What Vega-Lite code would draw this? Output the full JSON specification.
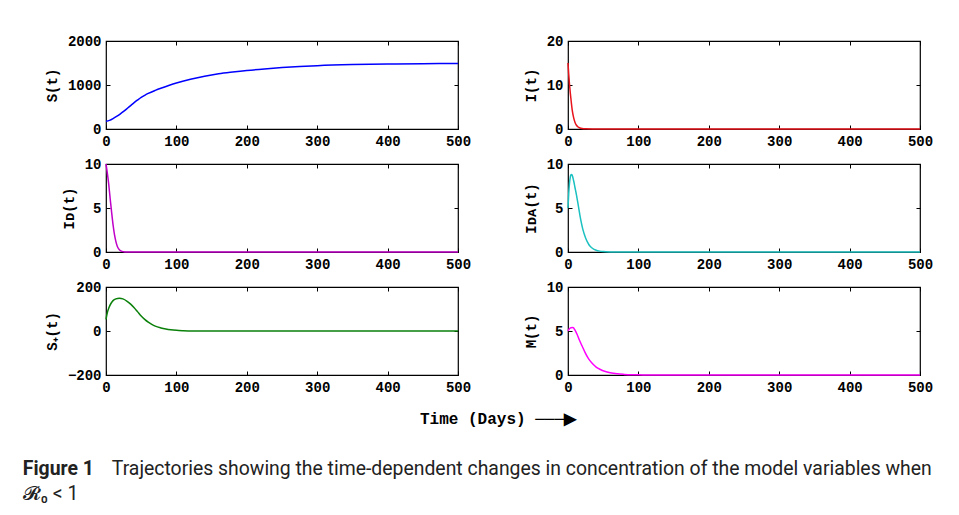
{
  "$schema": "https://vega.github.io/schema/vega-lite/v6.json",
  "background": "white",
  "padding": {"left": 22, "top": 33, "right": 5, "bottom": 5},
  "datasets": {
    "S": [{"t":0,"v":175},{"t":5,"v":195},{"t":10,"v":235},{"t":15,"v":285},{"t":20,"v":340},{"t":25,"v":400},{"t":30,"v":465},{"t":35,"v":532},{"t":40,"v":598},{"t":45,"v":660},{"t":50,"v":718},{"t":55,"v":765},{"t":60,"v":808},{"t":70,"v":878},{"t":80,"v":938},{"t":90,"v":994},{"t":100,"v":1045},{"t":120,"v":1130},{"t":140,"v":1200},{"t":160,"v":1255},{"t":180,"v":1295},{"t":200,"v":1330},{"t":225,"v":1365},{"t":250,"v":1395},{"t":275,"v":1420},{"t":300,"v":1440},{"t":350,"v":1465},{"t":400,"v":1478},{"t":450,"v":1485},{"t":500,"v":1490}],
    "I": [{"t":0,"v":15},{"t":1,"v":12.5},{"t":2,"v":10.4},{"t":3,"v":8.6},{"t":4,"v":7.1},{"t":5,"v":5.6},{"t":6,"v":4.3},{"t":8,"v":2.6},{"t":10,"v":1.5},{"t":12,"v":0.85},{"t":14,"v":0.5},{"t":17,"v":0.22},{"t":20,"v":0.1},{"t":25,"v":0.03},{"t":35,"v":0},{"t":500,"v":0}],
    "ID": [{"t":0,"v":10},{"t":2,"v":8.9},{"t":4,"v":7.6},{"t":6,"v":6.0},{"t":8,"v":4.5},{"t":10,"v":3.1},{"t":12,"v":2.0},{"t":14,"v":1.2},{"t":16,"v":0.65},{"t":18,"v":0.35},{"t":21,"v":0.13},{"t":25,"v":0.04},{"t":30,"v":0.01},{"t":40,"v":0},{"t":500,"v":0}],
    "IDA": [{"t":0,"v":5},{"t":1,"v":6.6},{"t":2,"v":7.7},{"t":3,"v":8.4},{"t":4,"v":8.75},{"t":5,"v":8.8},{"t":6,"v":8.7},{"t":8,"v":8.1},{"t":10,"v":7.3},{"t":12,"v":6.5},{"t":15,"v":5.1},{"t":18,"v":3.7},{"t":21,"v":2.6},{"t":25,"v":1.6},{"t":30,"v":0.8},{"t":35,"v":0.4},{"t":40,"v":0.2},{"t":45,"v":0.1},{"t":50,"v":0.05},{"t":60,"v":0.01},{"t":70,"v":0},{"t":500,"v":0}],
    "SP": [{"t":0,"v":53},{"t":2,"v":85},{"t":4,"v":105},{"t":7,"v":125},{"t":10,"v":138},{"t":14,"v":146},{"t":19,"v":149},{"t":24,"v":146},{"t":30,"v":135},{"t":35,"v":122},{"t":40,"v":106},{"t":45,"v":87},{"t":50,"v":68},{"t":55,"v":53},{"t":60,"v":40},{"t":65,"v":30},{"t":70,"v":22},{"t":78,"v":14},{"t":85,"v":9},{"t":92,"v":5.5},{"t":100,"v":3},{"t":110,"v":1.5},{"t":125,"v":0.5},{"t":150,"v":0.1},{"t":200,"v":0},{"t":500,"v":0}],
    "M": [{"t":0,"v":5.0},{"t":2,"v":5.25},{"t":4,"v":5.38},{"t":7,"v":5.4},{"t":10,"v":5.1},{"t":13,"v":4.6},{"t":16,"v":4.0},{"t":20,"v":3.3},{"t":24,"v":2.6},{"t":28,"v":2.0},{"t":32,"v":1.55},{"t":36,"v":1.2},{"t":40,"v":0.9},{"t":46,"v":0.62},{"t":52,"v":0.42},{"t":60,"v":0.25},{"t":70,"v":0.13},{"t":80,"v":0.07},{"t":90,"v":0.03},{"t":100,"v":0.015},{"t":120,"v":0},{"t":500,"v":0}]
  },
  "title": {
    "text": "Trajectories showing the time-dependent changes in concentration of the model variables when",
    "orient": "bottom", "anchor": "start", "font": "Roboto", "fontSize": 19.4, "fontWeight": "normal", "color": "#222222", "offset": 0, "dx": 89, "dy": -43
  },
  "vconcat": [
    {
      "title": {"text": "Figure 1", "subtitle": "𝓡₀ < 1", "orient": "bottom", "anchor": "start", "font": "Roboto", "fontSize": 19.4, "fontWeight": "bold", "color": "#222222", "subtitleFont": "Roboto", "subtitleFontSize": 19.4, "subtitleColor": "#222222", "subtitlePadding": 6, "offset": 33, "dx": -22},
      "vconcat": [
        {
          "title": {"text": "Time (Days)   ───▶", "orient": "bottom", "anchor": "middle", "font": "Liberation Mono", "fontSize": 16, "fontWeight": "bold", "color": "black", "offset": 16, "dx": 9},
          "columns": 2,
          "spacing": {"row": 7, "column": 51},
          "concat": [
            {"data": {"name": "S"}, "width": 352, "height": 88,
             "layer": [
               {"mark": {"type": "line", "color": "#0000ff", "strokeWidth": 1.5, "interpolate": "monotone"},
                "encoding": {"x": {"field": "t", "type": "quantitative", "scale": {"domain": [0, 500]}, "axis": {"values": [0,100,200,300,400,500], "format": "d", "title": null}},
                             "y": {"field": "v", "type": "quantitative", "scale": {"domain": [0, 2000]}, "axis": {"values": [0,1000,2000], "format": "d", "title": "S(t)"}}}},
               {"mark": {"type": "line", "opacity": 0},
                "encoding": {"x": {"field": "t", "type": "quantitative", "axis": {"orient": "top", "values": [0,100,200,300,400,500], "labels": false, "title": null}},
                             "y": {"field": "v", "type": "quantitative", "axis": {"orient": "right", "values": [0,1000,2000], "labels": false, "title": null}}}}
             ],
             "resolve": {"axis": {"x": "independent", "y": "independent"}}},
            {"data": {"name": "I"}, "width": 352, "height": 88,
             "layer": [
               {"mark": {"type": "line", "color": "#e8141c", "strokeWidth": 1.5, "interpolate": "monotone"},
                "encoding": {"x": {"field": "t", "type": "quantitative", "scale": {"domain": [0, 500]}, "axis": {"values": [0,100,200,300,400,500], "format": "d", "title": null}},
                             "y": {"field": "v", "type": "quantitative", "scale": {"domain": [0, 20]}, "axis": {"values": [0,10,20], "format": "d", "title": "I(t)"}}}},
               {"mark": {"type": "line", "opacity": 0},
                "encoding": {"x": {"field": "t", "type": "quantitative", "axis": {"orient": "top", "values": [0,100,200,300,400,500], "labels": false, "title": null}},
                             "y": {"field": "v", "type": "quantitative", "axis": {"orient": "right", "values": [0,10,20], "labels": false, "title": null}}}}
             ],
             "resolve": {"axis": {"x": "independent", "y": "independent"}}},
            {"data": {"name": "ID"}, "width": 352, "height": 88,
             "layer": [
               {"mark": {"type": "line", "color": "#c000c8", "strokeWidth": 1.5, "interpolate": "monotone"},
                "encoding": {"x": {"field": "t", "type": "quantitative", "scale": {"domain": [0, 500]}, "axis": {"values": [0,100,200,300,400,500], "format": "d", "title": null}},
                             "y": {"field": "v", "type": "quantitative", "scale": {"domain": [0, 10]}, "axis": {"values": [0,5,10], "format": "d", "title": "Iᴅ(t)"}}}},
               {"mark": {"type": "line", "opacity": 0},
                "encoding": {"x": {"field": "t", "type": "quantitative", "axis": {"orient": "top", "values": [0,100,200,300,400,500], "labels": false, "title": null}},
                             "y": {"field": "v", "type": "quantitative", "axis": {"orient": "right", "values": [0,5,10], "labels": false, "title": null}}}}
             ],
             "resolve": {"axis": {"x": "independent", "y": "independent"}}},
            {"data": {"name": "IDA"}, "width": 352, "height": 88,
             "layer": [
               {"mark": {"type": "line", "color": "#1cc0c0", "strokeWidth": 1.5, "interpolate": "monotone"},
                "encoding": {"x": {"field": "t", "type": "quantitative", "scale": {"domain": [0, 500]}, "axis": {"values": [0,100,200,300,400,500], "format": "d", "title": null}},
                             "y": {"field": "v", "type": "quantitative", "scale": {"domain": [0, 10]}, "axis": {"values": [0,5,10], "format": "d", "title": "Iᴅᴀ(t)"}}}},
               {"mark": {"type": "line", "opacity": 0},
                "encoding": {"x": {"field": "t", "type": "quantitative", "axis": {"orient": "top", "values": [0,100,200,300,400,500], "labels": false, "title": null}},
                             "y": {"field": "v", "type": "quantitative", "axis": {"orient": "right", "values": [0,5,10], "labels": false, "title": null}}}}
             ],
             "resolve": {"axis": {"x": "independent", "y": "independent"}}},
            {"data": {"name": "SP"}, "width": 352, "height": 88,
             "layer": [
               {"mark": {"type": "line", "color": "#0a800a", "strokeWidth": 1.5, "interpolate": "monotone"},
                "encoding": {"x": {"field": "t", "type": "quantitative", "scale": {"domain": [0, 500]}, "axis": {"values": [0,100,200,300,400,500], "format": "d", "title": null}},
                             "y": {"field": "v", "type": "quantitative", "scale": {"domain": [-200, 200]}, "axis": {"values": [-200,0,200], "format": "d", "title": "S₊(t)"}}}},
               {"mark": {"type": "line", "opacity": 0},
                "encoding": {"x": {"field": "t", "type": "quantitative", "axis": {"orient": "top", "values": [0,100,200,300,400,500], "labels": false, "title": null}},
                             "y": {"field": "v", "type": "quantitative", "axis": {"orient": "right", "values": [-200,0,200], "labels": false, "title": null}}}}
             ],
             "resolve": {"axis": {"x": "independent", "y": "independent"}}},
            {"data": {"name": "M"}, "width": 352, "height": 88,
             "layer": [
               {"mark": {"type": "line", "color": "#ff00ff", "strokeWidth": 1.5, "interpolate": "monotone"},
                "encoding": {"x": {"field": "t", "type": "quantitative", "scale": {"domain": [0, 500]}, "axis": {"values": [0,100,200,300,400,500], "format": "d", "title": null}},
                             "y": {"field": "v", "type": "quantitative", "scale": {"domain": [0, 10]}, "axis": {"values": [0,5,10], "format": "d", "title": "M(t)"}}}},
               {"mark": {"type": "line", "opacity": 0},
                "encoding": {"x": {"field": "t", "type": "quantitative", "axis": {"orient": "top", "values": [0,100,200,300,400,500], "labels": false, "title": null}},
                             "y": {"field": "v", "type": "quantitative", "axis": {"orient": "right", "values": [0,5,10], "labels": false, "title": null}}}}
             ],
             "resolve": {"axis": {"x": "independent", "y": "independent"}}}
          ]
        }
      ]
    }
  ],
  "config": {
    "view": {"stroke": "black", "strokeWidth": 1.2},
    "axis": {"labelFont": "Liberation Mono", "labelFontSize": 14, "labelFontWeight": "bold", "labelColor": "black",
             "titleFont": "Liberation Mono", "titleFontSize": 14, "titleFontWeight": "bold", "titleColor": "black",
             "domain": false, "grid": false, "tickColor": "black", "tickSize": -4, "labelPadding": 9, "titlePadding": 8,
             "labelFlush": false, "labelOverlap": false, "labelBound": false}
  }
}
